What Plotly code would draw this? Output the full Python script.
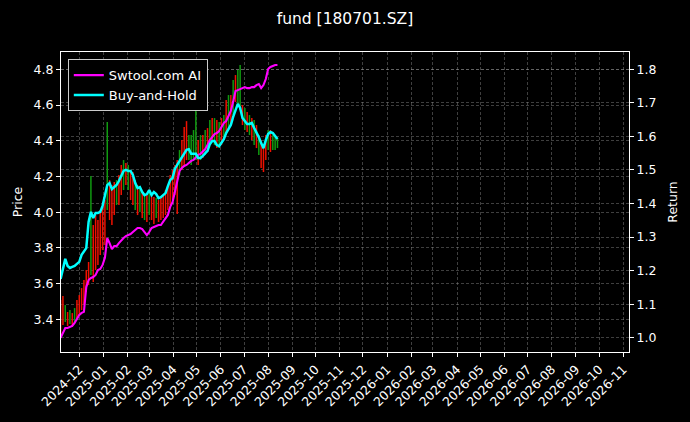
import pandas as pd
import plotly.graph_objects as go

# ---- data ----
start_date = "2024-11-07"
step_days = 3
n_points = 94
dates = pd.date_range(start_date, periods=n_points, freq=f"{step_days}D")

price_high = [3.508, 3.531, 3.480, 3.441, 3.452, 3.435, 3.463, 3.508, 3.536, 3.575,
              3.620, 3.676, 3.721, 4.202, 3.928, 3.984, 3.956, 4.012, 4.040, 4.068,
              4.505, 4.180, 4.152, 4.169, 4.180, 4.208, 4.264, 4.292, 4.275, 4.264,
              4.236, 4.225, 4.180, 4.152, 4.135, 4.113, 4.096, 4.096, 4.113, 4.096,
              4.085, 4.079, 4.068, 4.079, 4.090, 4.124, 4.152, 4.208, 4.236, 4.264,
              4.292, 4.348, 4.404, 4.477, 4.510, 4.432, 4.432, 4.460, 4.589, 4.404,
              4.432, 4.432, 4.460, 4.471, 4.516, 4.527, 4.527, 4.516, 4.505, 4.527,
              4.544, 4.628, 4.656, 4.656, 4.740, 4.768, 4.796, 4.824, 4.600, 4.583,
              4.561, 4.544, 4.527, 4.516, 4.488, 4.432, 4.404, 4.376, 4.432, 4.460,
              4.460, 4.432, 4.421, 4.415]
price_low = [3.312, 3.368, 3.385, 3.363, 3.374, 3.357, 3.385, 3.407, 3.424, 3.452,
             3.480, 3.553, 3.592, 3.648, 3.609, 3.676, 3.704, 3.760, 3.788, 3.816,
             4.012, 3.956, 3.928, 3.984, 4.040, 4.040, 4.096, 4.124, 4.152, 4.124,
             4.068, 4.040, 4.012, 3.984, 4.001, 3.967, 3.956, 3.945, 3.984, 3.956,
             3.934, 3.967, 3.945, 3.956, 3.967, 3.984, 4.012, 4.040, 4.068, 4.096,
             3.990, 4.208, 4.236, 4.264, 4.292, 4.292, 4.264, 4.292, 4.292, 4.264,
             4.292, 4.303, 4.320, 4.337, 4.376, 4.393, 4.376, 4.359, 4.359, 4.376,
             4.404, 4.432, 4.460, 4.488, 4.544, 4.617, 4.600, 4.572, 4.488, 4.460,
             4.449, 4.432, 4.404, 4.376, 4.359, 4.320, 4.247, 4.225, 4.292, 4.348,
             4.337, 4.348, 4.348, 4.359]
# 1 = up day (close >= open), 0 = down day
price_up = [0, 0, 1, 0, 1, 0, 1, 0, 0, 0,
            0, 0, 0, 1, 0, 0, 0, 0, 0, 0,
            1, 0, 0, 0, 1, 0, 0, 1, 0, 1,
            0, 0, 1, 0, 1, 0, 1, 0, 1, 0,
            0, 1, 0, 0, 0, 0, 0, 0, 0, 0,
            0, 1, 0, 0, 0, 1, 1, 1, 1, 0,
            1, 0, 1, 0, 1, 0, 1, 0, 1, 0,
            1, 0, 1, 0, 1, 0, 1, 1, 0, 1,
            0, 1, 0, 1, 0, 1, 0, 0, 0, 1,
            0, 1, 1, 1]

ai_return = [1.000, 1.014, 1.029, 1.029, 1.032, 1.035, 1.044, 1.056, 1.068, 1.074,
             1.077, 1.151, 1.172, 1.178, 1.181, 1.187, 1.202, 1.205, 1.217, 1.238,
             1.297, 1.282, 1.264, 1.273, 1.273, 1.282, 1.291, 1.297, 1.303, 1.306,
             1.309, 1.315, 1.321, 1.327, 1.327, 1.324, 1.315, 1.306, 1.315, 1.327,
             1.330, 1.333, 1.336, 1.336, 1.345, 1.354, 1.366, 1.390, 1.404, 1.434,
             1.461, 1.497, 1.506, 1.512, 1.515, 1.521, 1.527, 1.530, 1.539, 1.545,
             1.548, 1.554, 1.562, 1.574, 1.589, 1.598, 1.607, 1.610, 1.616, 1.628,
             1.640, 1.646, 1.661, 1.676, 1.703, 1.735, 1.738, 1.741, 1.744, 1.747,
             1.744, 1.744, 1.747, 1.747, 1.753, 1.756, 1.744, 1.753, 1.771, 1.801,
             1.807, 1.810, 1.813, 1.813]

bh_return = [1.175, 1.208, 1.235, 1.214, 1.208, 1.211, 1.214, 1.220, 1.226, 1.247,
             1.258, 1.267, 1.345, 1.375, 1.357, 1.372, 1.372, 1.375, 1.393, 1.428,
             1.455, 1.461, 1.443, 1.449, 1.455, 1.467, 1.485, 1.497, 1.500, 1.497,
             1.497, 1.485, 1.461, 1.446, 1.449, 1.434, 1.425, 1.428, 1.440, 1.425,
             1.434, 1.428, 1.416, 1.419, 1.425, 1.431, 1.452, 1.470, 1.476, 1.503,
             1.515, 1.527, 1.539, 1.551, 1.560, 1.562, 1.548, 1.548, 1.548, 1.536,
             1.536, 1.542, 1.551, 1.557, 1.577, 1.586, 1.586, 1.574, 1.571, 1.580,
             1.592, 1.610, 1.622, 1.634, 1.658, 1.679, 1.697, 1.685, 1.655, 1.646,
             1.637, 1.637, 1.640, 1.625, 1.613, 1.598, 1.580, 1.565, 1.589, 1.607,
             1.613, 1.610, 1.601, 1.592]

title_text = "fund [180701.SZ]"
series_names = ["Swtool.com AI", "Buy-and-Hold"]
x_range = ["2024-11-07 12:00", "2026-11-08 07:00"]
price_ticks = [3.4, 3.6, 3.8, 4.0, 4.2, 4.4, 4.6, 4.8]
return_ticks = [1.0, 1.1, 1.2, 1.3, 1.4, 1.5, 1.6, 1.7, 1.8]

# ---- build candle wick segments ----
def segments(flag):
    xs, ys = [], []
    for d, h, l, u in zip(dates, price_high, price_low, price_up):
        if u == flag:
            xs += [d, d, None]
            ys += [l, h, None]
    return xs, ys

FONT = "DejaVu Sans"
fig = go.Figure()
for flag, col in [(0, "#f01000"), (1, "#109a10")]:
    xs, ys = segments(flag)
    fig.add_trace(go.Scatter(x=xs, y=ys, mode="lines", line=dict(color=col, width=1.5),
                             showlegend=False, hoverinfo="skip", yaxis="y"))

fig.add_trace(go.Scatter(x=dates, y=ai_return, mode="lines", name=series_names[0],
                         line=dict(color="#ff00ff", width=2.1), yaxis="y2"))
fig.add_trace(go.Scatter(x=dates, y=bh_return, mode="lines", name=series_names[1],
                         line=dict(color="#00ffff", width=2.5), yaxis="y2"))

grid = dict(showgrid=True, gridcolor="rgba(150,150,150,0.42)", gridwidth=0.6, griddash="3px,2px")
axis_common = dict(showline=True, linecolor="white", linewidth=1.2, ticks="outside",
                   ticklen=4, tickcolor="white", tickfont=dict(color="white", size=12.5, family=FONT),
                   zeroline=False, automargin=False)

fig.update_layout(
    width=690, height=422,
    paper_bgcolor="black", plot_bgcolor="black",
    margin=dict(l=61, r=61, t=52, b=70, autoexpand=False),
    font=dict(family=FONT, color="white", size=12.5),
    title=dict(text=title_text, x=0.5, xanchor="center", y=0.957, yanchor="middle",
               font=dict(size=15.5, color="white", family=FONT)),
    xaxis=dict(range=x_range, type="date", tick0="2024-12-01", dtick="M1",
               tickformat="%Y-%m", tickangle=-45, mirror=True, **grid, **axis_common),
    yaxis=dict(range=[3.217, 4.897], tickvals=price_ticks, tickformat=".1f",
               title=dict(text="Price", font=dict(size=12.5, color="white"), standoff=8),
               mirror=False, **grid, **axis_common),
    yaxis2=dict(range=[0.9574, 1.8516], tickvals=return_ticks, tickformat=".1f",
                overlaying="y", side="right",
                title=dict(text="Return", font=dict(size=12.5, color="white"), standoff=12),
                **grid, **axis_common),
    legend=dict(x=0.012, y=0.976, xanchor="left", yanchor="top",
                bgcolor="black", bordercolor="#cccccc", borderwidth=1,
                font=dict(size=13, color="white", family=FONT), tracegroupgap=2),
    showlegend=True,
)

fig.write_html("out.html", config={"displayModeBar": False},
               post_script="document.body.style.margin='0';document.body.style.background='black';")
